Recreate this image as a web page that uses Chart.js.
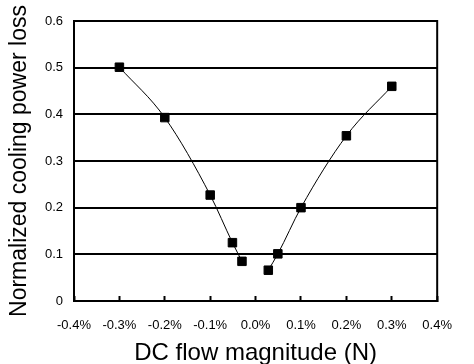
<!DOCTYPE html>
<html>
<head>
<meta charset="utf-8">
<script src="https://cdn.jsdelivr.net/npm/chart.js@4/dist/chart.umd.min.js"></script>
<style>
  html, body { margin: 0; padding: 0; background: #fff; }
  canvas { display: block; }
</style>
</head>
<body>
<canvas id="c" width="474" height="364"></canvas>
<script>
// DC flow magnitude (%) — null marks the gap in the plotted line
const flowMagnitude = [-0.3, -0.2, -0.1, -0.051, -0.030, 0.0, 0.028, 0.049, 0.1, 0.2, 0.3];
// Normalized cooling power loss
const coolingLoss   = [0.501, 0.393, 0.227, 0.125, 0.085, null, 0.066, 0.101, 0.200, 0.354, 0.460];
const xTickValues = [-0.4, -0.3, -0.2, -0.1, 0.0, 0.1, 0.2, 0.3, 0.4];
const yTickValues = [0, 0.1, 0.2, 0.3, 0.4, 0.5, 0.6];
const xTitle = 'DC flow magnitude (N)';
const yTitle = 'Normalized cooling power loss';

const points = flowMagnitude.map((x, i) => ({ x: x, y: coolingLoss[i] }));

const frame = {
  id: 'frame',
  afterDatasetsDraw(chart) {
    const { ctx, chartArea: a } = chart;
    ctx.save();
    ctx.strokeStyle = '#000';
    ctx.lineWidth = 2;
    ctx.beginPath();
    ctx.moveTo(a.right, a.top - 1);
    ctx.lineTo(a.right, a.bottom + 1);
    ctx.stroke();
    ctx.restore();
  }
};

new Chart(document.getElementById('c'), {
  type: 'line',
  data: {
    datasets: [{
      data: points,
      borderColor: '#000',
      borderWidth: 1,
      backgroundColor: '#000',
      pointStyle: 'rect',
      pointRadius: 6,
      pointBorderWidth: 1,
      pointBorderColor: '#000',
      pointBackgroundColor: '#000',
      cubicInterpolationMode: 'monotone',
      spanGaps: false,
      fill: false
    }]
  },
  options: {
    responsive: false,
    animation: false,
    devicePixelRatio: 1,
    layout: { padding: { left: 0, right: 22, top: 21, bottom: 0 } },
    plugins: { legend: { display: false }, tooltip: { enabled: false } },
    scales: {
      x: {
        type: 'linear',
        min: -0.4,
        max: 0.4,
        afterBuildTicks: s => { s.ticks = xTickValues.map(v => ({ value: v })); },
        afterFit: s => { s.height = 63; },
        grid: {
          drawOnChartArea: false,
          drawTicks: true,
          tickLength: -5,
          tickColor: '#000',
          tickWidth: 2
        },
        border: { display: true, color: '#000', width: 2 },
        ticks: {
          padding: 22,
          color: '#000',
          maxRotation: 0,
          font: { family: '"Liberation Sans", Arial, sans-serif', size: 13 },
          callback: v => (Math.abs(v) < 1e-9 ? 0 : v).toFixed(1) + '%'
        },
        title: {
          display: true,
          text: xTitle,
          color: '#000',
          padding: 0,
          font: { family: '"Liberation Sans", Arial, sans-serif', size: 24, lineHeight: 0.9 }
        }
      },
      y: {
        type: 'linear',
        min: 0,
        max: 0.6,
        afterBuildTicks: s => { s.ticks = yTickValues.map(v => ({ value: v })); },
        afterFit: s => { s.width = 74; },
        grid: {
          drawTicks: false,
          color: '#000',
          lineWidth: 2
        },
        border: { display: true, color: '#000', width: 2 },
        ticks: {
          padding: 11,
          color: '#000',
          font: { family: '"Liberation Sans", Arial, sans-serif', size: 13 },
          callback: v => v === 0 ? '0' : v.toFixed(1)
        },
        title: {
          display: true,
          text: yTitle,
          color: '#000',
          padding: { top: 6, bottom: 0 },
          font: { family: '"Liberation Sans", Arial, sans-serif', size: 23, lineHeight: 1.2 }
        }
      }
    }
  },
  plugins: [frame]
});
</script>
</body>
</html>
